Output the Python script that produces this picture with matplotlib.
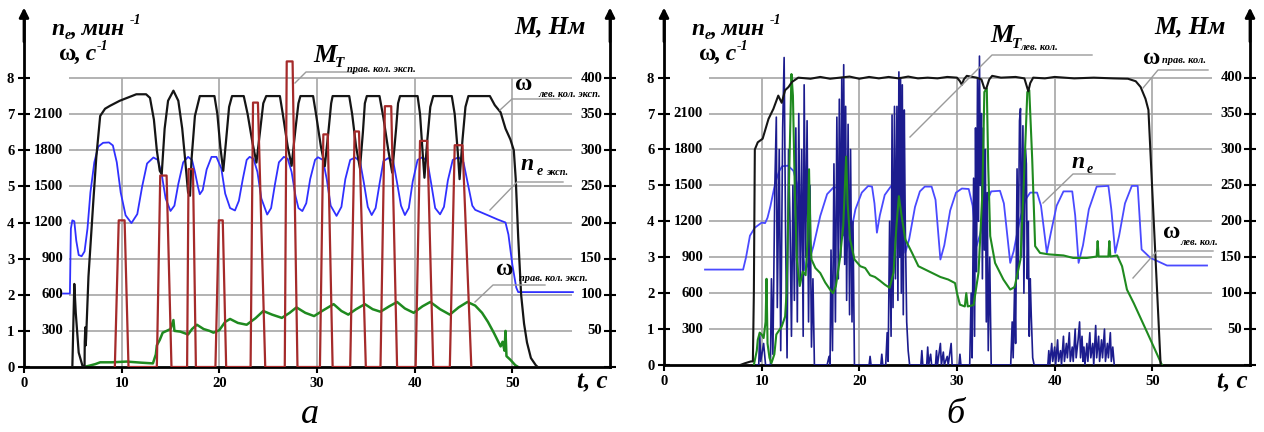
import numpy as np
import matplotlib
matplotlib.use("Agg")
from matplotlib import pyplot as plt
from matplotlib.lines import Line2D

W, H = 1264, 432
SERIF = "Liberation Serif"

# ---------- panel a data ----------
# omega left wheel (rad/s), black
a_black_t = [4.95, 5.15, 5.3, 5.6, 6.0, 6.2, 6.22, 6.28, 6.32, 6.36, 6.6, 7.1, 7.4, 7.8, 8.3, 8.8, 9.8, 11.5,
             12.5, 12.9, 13.3, 13.6, 13.9, 14.1, 14.4, 14.75, 15.3, 15.8, 16.2, 16.5, 16.8, 17.0, 17.15, 17.5,
             18.0, 19.5, 19.8, 20.1, 20.4, 20.7, 21.0, 21.3, 22.5, 22.9, 23.4, 23.8, 24.2, 24.5, 24.8, 26.2,
             26.5, 27.0, 27.4, 27.8, 28.1, 28.3, 29.6, 29.9, 30.4, 30.8, 31.2, 31.45, 31.6, 33.3, 33.6, 34.0,
             34.4, 34.7, 34.9, 35.1, 36.4, 36.8, 37.3, 37.7, 38.1, 38.3, 38.5, 40.3, 40.55, 40.8, 41.0, 41.3,
             41.6, 41.9, 43.8, 44.1, 44.4, 44.6, 44.9, 45.2, 45.5, 47.7, 48.2, 48.8, 49.3, 49.8, 50.15, 50.35,
             50.6, 50.9, 51.2, 51.5, 51.9, 52.4, 52.6]
a_black_w = [0, 2.3, 1.5, 0.4, 0.02, 0, 0.7, 1.1, 0.6, 0.8, 2.5, 4.6, 5.8, 6.95, 7.15, 7.23, 7.37, 7.55,
             7.55, 7.45, 6.85, 6.0, 5.43, 5.34, 6.6, 7.37, 7.65, 7.37, 6.6, 5.74, 4.83, 4.74, 5.74, 6.95,
             7.5, 7.5, 7.0, 6.1, 5.43, 6.3, 7.2, 7.5, 7.5, 7.0, 6.2, 5.66, 6.6, 7.3, 7.5, 7.5,
             7.0, 6.1, 5.57, 6.6, 7.3, 7.5, 7.5, 7.0, 6.1, 5.56, 6.6, 7.3, 7.5, 7.5, 7.0, 6.1,
             5.5, 6.5, 7.3, 7.5, 7.5, 6.9, 6.0, 5.38, 6.6, 7.3, 7.5, 7.5, 7.0, 6.0, 5.24, 6.3,
             7.2, 7.5, 7.5, 7.0, 6.0, 5.2, 6.3, 7.2, 7.5, 7.5, 7.25, 7.05, 6.6, 6.3, 6.0, 5.2,
             3.6, 2.0, 1.2, 0.68, 0.25, 0.05, 0]

# engine speed n_e (rpm), blue
a_blue_t = [4.0, 4.7, 4.8, 4.95, 5.15, 5.35, 5.6, 5.9, 6.2, 6.5, 6.8, 7.2, 7.6, 8.1, 8.7, 9.1, 9.5, 9.9,
            10.4, 11.0, 11.6, 12.1, 12.6, 13.25, 13.7, 14.1, 14.5, 15.0, 15.4, 15.8, 16.3, 16.8, 17.2, 17.5,
            17.8, 18.0, 18.3, 18.7, 19.2, 19.7, 20.2, 20.6, 21.1, 21.6, 22.0, 22.4, 22.8, 23.1, 23.5, 23.9,
            24.3, 24.9, 25.3, 25.7, 26.1, 26.6, 27.0, 27.4, 27.8, 28.1, 28.5, 28.9, 29.3, 29.8, 30.1, 30.6,
            31.0, 31.4, 32.0, 32.5, 32.9, 33.4, 33.9, 34.4, 34.8, 35.2, 35.6, 36.0, 36.4, 36.8, 37.3, 37.8,
            38.2, 38.6, 39.0, 39.4, 39.8, 40.3, 40.8, 41.3, 41.7, 42.1, 42.6, 43.0, 43.4, 43.9, 44.5, 45.0,
            45.5, 45.9, 46.2, 47.5, 48.5, 49.3, 49.6, 50.0, 50.4, 50.6, 56.2]
a_blue_n = [610, 610, 1150, 1218, 1210, 1050, 930, 920, 960, 1150, 1450, 1700, 1830, 1862, 1865, 1840, 1700, 1450,
            1260, 1195, 1270, 1500, 1690, 1740, 1720, 1600, 1400, 1296, 1340, 1520, 1700, 1745, 1720, 1620,
            1500, 1435, 1470, 1640, 1745, 1745, 1650, 1440, 1320, 1300, 1380, 1560, 1720, 1745, 1730, 1620,
            1400, 1266, 1320, 1520, 1700, 1745, 1730, 1620, 1420, 1320, 1295, 1360, 1560, 1720, 1742, 1720,
            1560, 1340, 1255, 1330, 1560, 1720, 1740, 1710, 1530, 1330, 1262, 1320, 1520, 1710, 1735, 1710,
            1530, 1340, 1262, 1320, 1540, 1720, 1742, 1710, 1520, 1320, 1268, 1330, 1550, 1720, 1742, 1700,
            1500, 1340, 1305, 1260, 1225, 1200, 1100, 850, 660, 622, 622]

# omega right wheel (rad/s), green
a_green_t = [6.1, 6.6, 7.3, 7.8, 9.0, 10.5, 12.0, 13.2, 13.5, 13.6, 13.9, 14.2, 14.6, 15.0, 15.3, 15.4, 16.0,
             16.8, 17.2, 17.7, 18.4, 19.0, 19.4, 20.0, 20.6, 21.1, 21.9, 22.8, 23.7, 24.5, 25.4, 26.4, 27.2,
             27.9, 28.8, 29.7, 30.7, 31.7, 32.5, 33.2, 34.0, 34.9, 35.7, 36.5, 37.4, 38.2, 39.0, 39.9, 40.8,
             41.6, 42.6, 43.6, 44.5, 45.4, 46.2, 46.9, 47.5, 48.1, 48.8, 49.0, 49.2, 49.3, 49.4, 49.8, 50.3, 50.6]
a_green_w = [0, 0.03, 0.08, 0.13, 0.13, 0.15, 0.12, 0.1, 0.35, 0.6, 0.75, 0.95, 1.0, 1.05, 1.3, 1.0, 0.98,
             0.9, 1.05, 1.17, 1.05, 1.0, 0.95, 1.02, 1.25, 1.33, 1.22, 1.17, 1.35, 1.55, 1.45, 1.36, 1.5,
             1.65, 1.5, 1.41, 1.58, 1.74, 1.55, 1.45, 1.6, 1.74, 1.6, 1.53, 1.68, 1.8, 1.62, 1.5, 1.68,
             1.8, 1.6, 1.45, 1.65, 1.8, 1.7, 1.5, 1.25, 0.95, 0.57, 0.7, 0.45, 1.0, 0.3, 0.2, 0.05, 0]

# brake torque right wheel pulses (Nm), dark red
a_red_start = [9.3, 13.6, 16.7, 19.6, 23.2, 26.7, 30.3, 33.4, 36.5, 40.1, 43.6]
a_red_top1 = [9.7, 13.95, 16.85, 19.95, 23.45, 26.9, 30.65, 33.85, 36.95, 40.55, 44.1]
a_red_top2 = [10.3, 14.6, 17.3, 20.35, 23.95, 27.5, 31.1, 34.3, 37.6, 41.3, 44.9]
a_red_end = [10.7, 15.1, 17.6, 20.7, 24.7, 28.0, 31.6, 35.0, 38.2, 41.9, 45.8]
a_red_peak = [203, 265, 274, 203, 366, 423, 322, 326, 361, 313, 307]

# ---------- panel b data ----------
b_black_t = [7.8, 8.3, 8.9, 9.1, 9.2, 9.3, 9.6, 10.1, 10.7, 11.2, 11.7, 12.05, 12.4, 12.75, 13.1, 13.75, 15, 16,
             17, 18, 19, 20, 21, 22, 23, 24, 25, 26, 27, 28, 29, 30.0, 30.3, 30.5, 30.7, 31, 32, 32.5, 32.8,
             33.0, 33.3, 33.6, 34.5, 36, 36.9, 37.1, 37.3, 37.5, 37.8, 39, 40, 42, 44, 46, 47.5, 48.3, 48.8,
             49.3, 49.6, 50.85]
b_black_w = [0, 0.05, 0.1, 0.1, 2.0, 6.0, 6.2, 6.3, 6.85, 7.13, 7.5, 7.3, 7.65, 7.74, 7.88, 8.0, 7.97, 8.02,
             7.97, 8.0, 8.03, 7.97, 8.02, 7.98, 8.02, 7.98, 8.03, 7.98, 8.0, 7.98, 8.02, 8.0, 7.9, 7.8, 7.95,
             8.05, 8.0, 7.95, 7.7, 7.7, 7.95, 8.05, 8.0, 8.02, 7.98, 7.8, 7.62, 7.85, 8.0, 7.98, 8.02, 7.98,
             8.0, 7.98, 7.97, 7.9, 7.74, 7.41, 7.1, 0]

b_blue_t = [4.2, 8.1, 8.4, 8.8, 9.3, 10.0, 10.35, 10.6, 10.9, 11.4, 11.8, 12.1, 12.7, 13.25, 13.6, 13.9, 14.2,
            14.45, 14.8, 15.3, 16.0, 16.7, 17.35, 17.85, 18.2, 18.45, 18.65, 19.0, 19.6, 20.25, 20.9, 21.3,
            21.55, 21.8, 22.1, 22.6, 23.3, 24.0, 24.3, 24.7, 25.1, 25.7, 26.2, 26.7, 27.4, 27.8, 28.3, 28.7,
            29.3, 29.9, 30.5, 31.2, 31.6, 32.0, 32.4, 32.9, 33.5, 34.4, 34.8, 35.45, 35.8, 36.4, 37.0, 37.5,
            38.2, 38.6, 39.2, 39.6, 40.2, 40.9, 41.8, 42.1, 42.45, 42.9, 43.5, 44.3, 45.5, 45.8, 46.2, 46.6,
            47.2, 47.9, 48.5, 48.9, 49.8, 51.5, 55.6]
b_blue_n = [797, 797, 900, 1080, 1147, 1189, 1185, 1230, 1328, 1525, 1620, 1660, 1665, 1622, 1520, 1300, 950,
            790, 850, 993, 1245, 1427, 1483, 1483, 1385, 1100, 940, 1050, 1300, 1440, 1495, 1490,
            1350, 1105, 1250, 1420, 1500, 1500, 1350, 937, 1050, 1320, 1450, 1490, 1490, 1380, 881, 1000,
            1290, 1440, 1474, 1470, 1330, 993, 1100, 1330, 1450, 1455, 1350, 853, 950, 1200, 1380, 1440,
            1440, 1330, 937, 1100, 1330, 1450, 1450, 1250, 853, 1000, 1300, 1490, 1496, 1300, 937, 1080,
            1350, 1496, 1496, 965, 895, 831, 831]

b_green_t = [9.2, 9.5, 9.6, 9.8, 10.0, 10.2, 10.4, 10.5, 10.6, 10.8, 11.0, 11.3, 11.5, 12.05, 12.4, 12.55, 12.7,
             12.85, 13.05, 13.2, 13.4, 13.6, 13.9, 14.2, 14.5, 14.7, 14.85, 15.0, 15.1, 15.5, 16.0, 16.5,
             17.0, 17.3, 17.6, 18.0, 18.35, 18.65, 18.8, 19.05, 19.5, 20.1, 20.6, 21.1, 21.6, 22.1, 22.6,
             23.1, 23.5, 23.8, 24.05, 24.3, 24.7, 25.4, 26.05, 27.4, 28.3, 29.1, 29.8, 30.0, 30.3, 30.8,
             30.95, 31.1, 31.7, 32.2, 32.6, 32.8, 33.05, 33.2, 33.4, 33.9, 34.75, 35.45, 35.9, 36.5, 36.8,
             37.2, 37.4, 37.7, 38.0, 38.5, 39.4, 40.9, 41.9, 43.3, 44.3, 44.4, 44.5, 45.5, 45.6, 45.7, 46.4,
             46.9, 47.4, 48.1, 49.5, 50.9, 51.0]
b_green_w = [0, 0.4, 0.7, 0.9, 0.85, 0.75, 1.2, 2.4, 0.6, 0.2, 0.05, 0.3, 0.85, 1.07, 1.35, 2.0, 3.9,
             5.7, 8.1, 7.5, 4.8, 2.94, 2.2, 2.6, 2.5, 3.5, 5.45, 3.5, 2.94, 2.7, 2.56, 2.3,
             2.1, 2.0, 2.2, 2.94, 3.87, 5.8, 4.5, 3.5, 2.94, 2.75, 2.7, 2.5, 2.45, 2.35, 2.24,
             2.15, 2.57, 3.87, 4.7, 4.2, 3.5, 3.12, 2.75, 2.57, 2.45, 2.38, 2.28, 2.0, 1.68, 1.63,
             2.0, 1.63, 1.67, 2.57, 4.8, 7.6, 7.7, 5.5, 3.59, 2.84, 2.38, 2.1, 2.17, 2.94, 4.8,
             7.6, 7.65, 5.73, 3.31, 3.12, 3.08, 3.05, 2.98, 2.98, 3.02, 3.45, 3.02, 3.02, 3.45, 3.02, 3.05,
             2.75, 2.1, 1.72, 0.89, 0.05, 0]

# brake torque left wheel (Nm), navy
b_navy_t = [9.5, 9.7, 9.8, 9.9, 10.2, 10.4, 10.9, 11.0, 11.15, 11.35, 11.5, 11.6, 11.8, 11.95, 12.15, 12.3,
            12.45, 12.6, 12.75, 12.9, 13.05, 13.2, 13.35, 13.5, 13.65, 13.8, 13.95, 14.1, 14.25, 14.35, 14.5,
            14.65, 14.8, 14.95, 15.1, 15.25, 15.4, 16.7, 16.9, 17.0, 17.1, 17.25, 17.4, 17.55, 17.7, 17.85,
            17.95, 18.1, 18.2, 18.3, 18.4, 18.5, 18.6, 18.7, 18.85, 19.0, 19.1, 19.25, 19.35, 19.5, 21.0,
            21.1, 21.2, 22.2, 22.3, 22.4, 22.7, 22.85, 22.95, 23.1, 23.25, 23.35, 23.45, 23.6, 23.7, 23.85,
            23.95, 24.05, 24.15, 24.2, 24.3, 24.4, 24.5, 24.6, 24.7, 24.85, 25.0, 25.15, 26.3, 26.4, 26.5,
            26.9, 27.0, 27.1, 27.3, 27.4, 27.8, 27.9, 28.0, 28.3, 28.4, 28.6, 28.7, 29.0, 29.1, 29.4, 29.5,
            30.2, 30.3, 30.4, 31.3, 31.45, 31.55, 31.7, 31.8, 31.9, 32.0, 32.1, 32.2, 32.3, 32.4, 32.5,
            32.6, 32.7, 32.8, 32.9, 33.0, 33.1, 33.2, 33.35, 33.5, 35.5, 35.65, 35.75, 35.9, 36.0, 36.15,
            36.25, 36.4, 36.5, 36.6, 36.75, 36.85, 37.0, 37.1, 37.2, 37.3, 37.4, 37.5, 37.6, 37.75, 37.9,
            39.3, 39.4, 39.5, 39.7, 39.8, 40.0, 40.1, 40.3, 40.4, 40.6, 40.7, 40.9, 41.0, 41.2, 41.3, 41.5,
            41.6, 41.8, 41.9, 42.1, 42.2, 42.4, 42.55, 42.65, 42.8, 42.9, 43.0, 43.1, 43.3, 43.4, 43.6, 43.7,
            43.9, 44.0, 44.2, 44.3, 44.5, 44.6, 44.8, 44.9, 45.1, 45.2, 45.4, 45.5, 45.7, 45.8, 45.95, 46.1]
b_navy_m = [0, 0, 45, 5, 30, 0, 0, 120, 15, 250, 345, 80, 300, 20, 330, 428,
            180, 10, 300, 200, 40, 250, 90, 330, 60, 350, 120, 300, 40, 390, 150,
            340, 60, 250, 25, 120, 0, 0, 12, 0, 160, 20, 280, 60, 345, 120,
            370, 150, 400, 180, 418, 140, 360, 90, 335, 70, 300, 60, 200, 0, 0,
            12, 0, 0, 15, 0, 0, 45, 5, 200, 40, 348, 80, 360, 120, 360,
            90, 408, 150, 400, 100, 390, 70, 355, 200, 60, 20, 0, 0, 20, 0,
            0, 25, 0, 15, 0, 0, 20, 0, 30, 0, 18, 0, 12, 0, 30, 0,
            0, 15, 0, 0, 100, 10, 260, 40, 330, 130, 400, 200, 430, 250, 350,
            120, 330, 160, 300, 60, 240, 20, 150, 0, 0, 60, 10, 110, 30, 273,
            120, 340, 357, 150, 333, 100, 300, 280, 120, 200, 40, 120, 70, 10, 0,
            0, 20, 0, 30, 5, 25, 0, 35, 5, 20, 0, 40, 5, 30, 10, 45,
            5, 25, 5, 50, 10, 35, 60, 10, 40, 5, 25, 0, 30, 5, 45, 10,
            30, 0, 55, 10, 40, 5, 35, 10, 50, 5, 30, 10, 45, 5, 25, 0]

# axis labels
omega_ticks = [0, 1, 2, 3, 4, 5, 6, 7, 8]
ne_ticks = [300, 600, 900, 1200, 1500, 1800, 2100]
m_ticks = [50, 100, 150, 200, 250, 300, 350, 400]
t_ticks = [0, 10, 20, 30, 40, 50]

C_BLACK = "#151515"
C_BLUE = "#3030ff"
C_BLUE_B = "#4a4aff"
C_GREEN = "#1f8a1f"
C_RED = "#a52a2a"
C_NAVY = "#1c1c8e"
C_GRID = "#a6a6a6"
C_LEAD = "#9a9a9a"

fig = plt.figure(figsize=(W / 100, H / 100), dpi=100)


def ptxt(x, y, s, size, bold=True, italic=True, **kw):
    fig.text(x / W, 1 - y / H, s, fontsize=size, family=SERIF,
             fontweight="bold" if bold else "normal",
             fontstyle="italic" if italic else "normal", va="baseline", **kw)


def pline(xs, ys, color=C_LEAD, lw=1.0):
    fig.add_artist(Line2D([x / W for x in xs], [1 - y / H for y in ys],
                          transform=fig.transFigure, color=color, lw=lw))


def setup_axes(ax_left_px, bottom_px, top_px):
    ax = fig.add_axes([ax_left_px / W, 1 - bottom_px / H, 586 / W, (bottom_px - top_px) / H])
    ax.set_xlim(0, 60)
    ax.set_ylim(0, 9.8)
    ax.patch.set_alpha(0)
    ax.spines["top"].set_visible(False)
    for s in ("left", "right", "bottom"):
        ax.spines[s].set_linewidth(2.0)
        ax.spines[s].set_color("black")
    ax.set_yticks(omega_ticks)
    ax.set_yticklabels([str(v) for v in omega_ticks], fontsize=10.5, family=SERIF, fontweight="bold")
    ax.set_xticks(t_ticks)
    ax.set_xticklabels([str(v) for v in t_ticks], fontsize=10.5, family=SERIF, fontweight="bold")
    ax.tick_params(axis="y", which="both", left=True, right=True, direction="inout", length=8, width=1.5, pad=3)
    ax.tick_params(axis="x", direction="out", length=4, width=1.5, pad=3)
    # grid
    ax.hlines(omega_ticks[1:], 4.6, 56.1, color=C_GRID, lw=1.2, zorder=0.5)
    ax.vlines(t_ticks[1:], 0, 8, color=C_GRID, lw=1.2, zorder=0.5)
    # secondary scales
    for yv, lab in zip(omega_ticks[1:8], ne_ticks):
        ax.text(4.0, yv, str(lab), ha="right", va="center", fontsize=10.5, family=SERIF, fontweight="bold")
    for yv, lab in zip(omega_ticks[1:], m_ticks):
        ax.text(59.2, yv, str(lab), ha="right", va="center", fontsize=10.5, family=SERIF, fontweight="bold")
    # arrows on vertical axes
    for xv in (0, 60):
        ax.annotate("", xy=(xv, 9.95), xytext=(xv, 9.0), annotation_clip=False,
                    arrowprops=dict(arrowstyle="-|>", lw=2.0, color="black", mutation_scale=14,
                                    shrinkA=0, shrinkB=0))
    return ax


# ---------- panel a ----------
ax_a = setup_axes(24, 367, 13)
ax_a.plot(a_green_t, a_green_w, color=C_GREEN, lw=1.8, zorder=2)
ax_a.plot(a_blue_t, np.array(a_blue_n) / 300.0, color=C_BLUE, lw=1.3, zorder=2)
ax_a.plot(a_black_t, a_black_w, color=C_BLACK, lw=1.6, zorder=3)
red_t, red_m = [], []
for t0, t1, t2, t3, pk in zip(a_red_start, a_red_top1, a_red_top2, a_red_end, a_red_peak):
    red_t += [t0, t1, t2, t3]
    red_m += [0, pk, pk, 0]
ax_a.plot(red_t, np.array(red_m) / 50.0, color=C_RED, lw=1.6, zorder=4)

# ---------- panel b ----------
ax_b = setup_axes(664, 365, 13)
ax_b.plot(b_blue_t, np.array(b_blue_n) / 300.0, color=C_BLUE_B, lw=1.3, zorder=2)
ax_b.plot(b_navy_t, np.array(b_navy_m) / 50.0, color=C_NAVY, lw=1.2, zorder=3)
ax_b.plot(b_green_t, b_green_w, color=C_GREEN, lw=1.5, zorder=4)
ax_b.plot(b_black_t, b_black_w, color=C_BLACK, lw=1.5, zorder=5)

# ---------- axis titles ----------
for dx in (0, 640):
    ptxt(52 + dx, 35, "n", 17)
    ptxt(65 + dx, 39, "e", 10)
    ptxt(71 + dx, 35, ", мин", 17)
    ptxt(130 + dx, 24, "-1", 10)
    ptxt(59 + dx, 60, "ω", 17, italic=False)
    ptxt(75 + dx, 60, ", с", 17)
    ptxt(97 + dx, 50, "-1", 10)
    ptxt(514 + dx, 33, "M, Нм", 18)
    ptxt(577 + dx, 388, "t, с", 18)

ptxt(301, 423, "а", 26, bold=False)
ptxt(946, 423, "б", 26, bold=False)

# ---------- curve labels, panel a ----------
ptxt(313, 62, "M", 19)
ptxt(335, 67, "T", 11)
ptxt(347, 72, "прав. кол. эксп.", 7.5)
pline([295, 306, 357], [83, 72, 72])

ptxt(515, 90, "ω", 17, italic=False)
ptxt(538, 97, "лев. кол. эксп.", 7.5)
pline([500, 512, 560], [110, 99, 99])

ptxt(521, 170, "n", 17)
ptxt(537, 175, "e", 10)
ptxt(546, 175, "эксп.", 7.5)
pline([490, 517, 563], [210, 182, 182])

ptxt(496, 275, "ω", 17, italic=False)
ptxt(519, 281, "прав. кол. эксп.", 7.5)
pline([475, 493, 545], [302, 285, 285])

# ---------- curve labels, panel b ----------
ptxt(990, 42, "M", 19)
ptxt(1012, 48, "T", 11)
ptxt(1020, 50, "лев. кол.", 7.5)
pline([910, 992, 1092], [137, 55, 55])

ptxt(1143, 64, "ω", 17, italic=False)
ptxt(1162, 63, "прав. кол.", 7.5)
pline([1143, 1158, 1208], [88, 70, 70])

ptxt(1072, 168, "n", 17)
ptxt(1087, 173, "e", 10)
pline([1043, 1073, 1115], [203, 174, 174])

ptxt(1163, 238, "ω", 17, italic=False)
ptxt(1180, 245, "лев. кол.", 7.5)
pline([1133, 1157, 1213], [278, 251, 251])

fig.savefig("out.png", dpi=100)
